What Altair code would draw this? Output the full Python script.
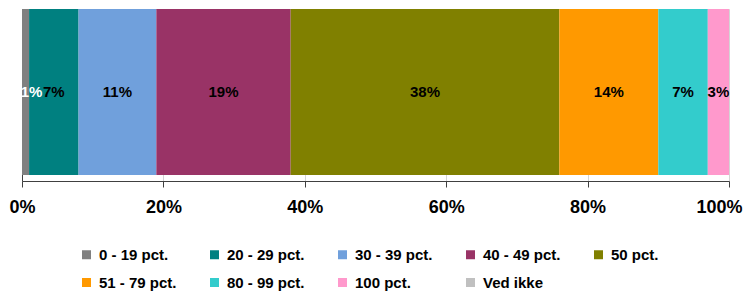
import altair as alt
import pandas as pd

categories = ["0 - 19 pct.", "20 - 29 pct.", "30 - 39 pct.", "40 - 49 pct.", "50 pct.",
              "51 - 79 pct.", "80 - 99 pct.", "100 pct.", "Ved ikke"]
values = [1, 7, 11, 19, 38, 14, 7, 3, 0]
colors = ["#808080", "#008080", "#70A0DC", "#993366", "#808000",
          "#FF9900", "#33CCCC", "#FF99CC", "#C0C0C0"]
tick_values = [0, 20, 40, 60, 80, 100]

df = pd.DataFrame({
    "cat": categories,
    "value": values,
    "order": list(range(len(categories))),
    "row": ["a"] * len(categories),
})

FONT = "Liberation Sans"

base = alt.Chart(df).transform_window(
    cum="sum(value)", sort=[alt.SortField("order")], frame=[None, 0]
).transform_calculate(
    start="datum.cum - datum.value",
    mid="datum.cum - datum.value / 2",
    label="datum.value + '%'",
)

yenc = alt.Y(
    "row:N",
    scale=alt.Scale(paddingInner=0, paddingOuter=0.018, align=0),
    axis=alt.Axis(labels=False, ticks=False, title=None, domain=True,
                  domainColor="#404040", domainWidth=1),
)

bars = base.mark_bar(strokeWidth=0).encode(
    x=alt.X(
        "start:Q",
        scale=alt.Scale(domain=[0, 100], nice=False),
        axis=alt.Axis(
            values=tick_values, labelExpr="datum.value + '%'", title=None,
            grid=True, gridColor="#d4d4d4", gridWidth=1,
            domainColor="#404040", tickColor="#404040", tickSize=6,
            labelFont=FONT, labelFontSize=18, labelFontWeight="bold",
            labelColor="black", labelPadding=11,
            labelFlush=True, labelFlushOffset=13,
        ),
    ),
    x2="cum:Q",
    y=yenc,
    color=alt.Color(
        "cat:N",
        scale=alt.Scale(domain=categories, range=colors),
        sort=categories,
        legend=alt.Legend(
            title=None, orient="none", legendX=57, legendY=238,
            direction="horizontal", columns=5,
            symbolType="square", symbolSize=81, symbolStrokeWidth=0,
            symbolOpacity=1,
            labelFont=FONT, labelFontSize=15, labelFontWeight="bold",
            labelColor="black", labelOffset=5,
            columnPadding=30, rowPadding=12, labelLimit=200,
        ),
    ),
)

texts = base.transform_filter("datum.value >= 2").mark_text(
    font=FONT, fontSize=15, fontWeight="bold", align="center", baseline="middle",
    color="black",
).encode(
    x="mid:Q",
    y=yenc,
    text="label:N",
)

small_texts = base.transform_filter("datum.value > 0 && datum.value < 2").mark_text(
    font=FONT, fontSize=15, fontWeight="bold", align="center", baseline="middle",
    color="white", dx=6,
).encode(
    x="mid:Q",
    y=yenc,
    text="label:N",
)

chart = alt.layer(bars, texts, small_texts).properties(
    width=707, height=172,
    autosize=alt.AutoSizeParams(type="none"),
    padding={"left": 14, "top": 1, "right": 16, "bottom": 112},
).configure_view(stroke=None).configure(background="white")

chart.save("out.html", embed_options={"renderer": "svg", "actions": False})
